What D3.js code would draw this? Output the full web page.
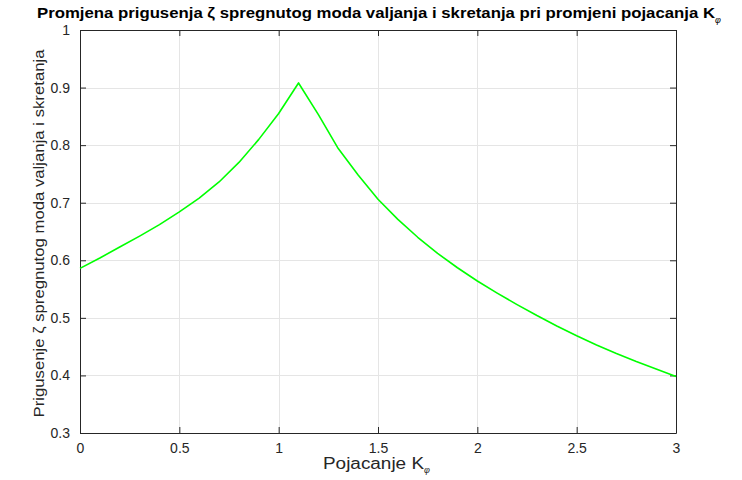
<!DOCTYPE html>
<html>
<head>
<meta charset="utf-8">
<script src="https://cdn.jsdelivr.net/npm/d3@7"></script>
<style>
  body { margin: 0; background: #fff; }
  text { font-family: "Liberation Sans", Arial, Helvetica, sans-serif; }
</style>
</head>
<body>
<svg id="chart" width="742" height="480"></svg>
<script>
// Gain K_phi (sampled in steps of 0.1)
const gainK = [0.0, 0.1, 0.2, 0.3, 0.4, 0.5, 0.6, 0.7, 0.8, 0.9, 1.0,
               1.1, 1.2, 1.3, 1.4, 1.5, 1.6, 1.7, 1.8, 1.9, 2.0,
               2.1, 2.2, 2.3, 2.4, 2.5, 2.6, 2.7, 2.8, 2.9, 3.0];
// Damping ratio zeta of the coupled roll-yaw mode
const zeta = [0.586, 0.604, 0.623, 0.642, 0.662, 0.684, 0.708, 0.736, 0.770, 0.810, 0.855,
              0.908, 0.853, 0.794, 0.748, 0.706, 0.671, 0.640, 0.612, 0.587, 0.564,
              0.543, 0.523, 0.504, 0.486, 0.469, 0.453, 0.438, 0.424, 0.411, 0.398];
const xTicks = [0, 0.5, 1, 1.5, 2, 2.5, 3];
const yTicks = [0.3, 0.4, 0.5, 0.6, 0.7, 0.8, 0.9, 1];

const titleText = "Promjena prigusenja \u03B6 spregnutog moda valjanja i skretanja pri promjeni pojacanja K";
const xLabelText = "Pojacanje K";
const yLabelText = "Prigusenje \u03B6 spregnutog moda valjanja i skretanja";

const svg = d3.select("#chart");
const L = 80, R = 676, T = 30, B = 433;

const x = d3.scaleLinear().domain([0, 3]).range([L, R]);
const y = d3.scaleLinear().domain([0.3, 1]).range([B, T]);

// grid
const grid = svg.append("g").attr("stroke", "#e5e5e5").attr("stroke-width", 1);
grid.selectAll("line.vx").data(xTicks).join("line")
  .attr("x1", d => Math.round(x(d)) + 0.5).attr("x2", d => Math.round(x(d)) + 0.5)
  .attr("y1", T).attr("y2", B);
grid.selectAll("line.hy").data(yTicks).join("line")
  .attr("x1", L).attr("x2", R)
  .attr("y1", d => Math.round(y(d)) + 0.5).attr("y2", d => Math.round(y(d)) + 0.5);

// axes with inward ticks (box on all four sides)
const axisColor = "#262626";
const fmt = d => d3.format("")(d);
const xAxis = svg.append("g").attr("transform", `translate(0,${B})`)
  .call(d3.axisBottom(x).tickValues(xTicks).tickSizeInner(-6).tickSizeOuter(0).tickPadding(10).tickFormat(fmt));
const xAxisTop = svg.append("g").attr("transform", `translate(0,${T})`)
  .call(d3.axisTop(x).tickValues(xTicks).tickSizeInner(-6).tickSizeOuter(0).tickFormat(""));
const yAxis = svg.append("g").attr("transform", `translate(${L},0)`)
  .call(d3.axisLeft(y).tickValues(yTicks).tickSizeInner(-6).tickSizeOuter(0).tickPadding(10).tickFormat(fmt));
const yAxisRight = svg.append("g").attr("transform", `translate(${R},0)`)
  .call(d3.axisRight(y).tickValues(yTicks).tickSizeInner(-6).tickSizeOuter(0).tickFormat(""));

[xAxis, xAxisTop, yAxis, yAxisRight].forEach(g => {
  g.select(".domain").attr("stroke", axisColor).attr("stroke-width", 1);
  g.selectAll(".tick line").attr("stroke", axisColor);
  g.selectAll(".tick text").attr("fill", axisColor).attr("font-size", 14)
    .attr("font-family", "'Liberation Sans', Arial, sans-serif");
});

// data line
svg.append("path")
  .datum(gainK.map((k, i) => [k, zeta[i]]))
  .attr("fill", "none")
  .attr("stroke", "#00ff00")
  .attr("stroke-width", 1.6)
  .attr("stroke-linejoin", "round")
  .attr("d", d3.line().x(d => x(d[0])).y(d => y(d[1])));

// title
const title = svg.append("text")
  .attr("x", 37).attr("y", 18)
  .attr("font-size", 15).attr("font-weight", "bold").attr("fill", "#000");
title.append("tspan").attr("textLength", 678).attr("lengthAdjust", "spacingAndGlyphs").text(titleText);
title.append("tspan").attr("dy", 5).attr("font-size", 9).attr("font-weight", "normal")
  .attr("font-style", "italic").text("\u03C6");

// x label
const xl = svg.append("text")
  .attr("x", 323).attr("y", 469)
  .attr("font-size", 16).attr("fill", axisColor);
xl.append("tspan").attr("textLength", 101).attr("lengthAdjust", "spacingAndGlyphs").text(xLabelText);
xl.append("tspan").attr("dy", 4).attr("font-size", 9).attr("font-style", "italic").text("\u03C6");

// y label
svg.append("text")
  .attr("transform", `translate(44,${(T + B) / 2 + 2}) rotate(-90)`)
  .attr("text-anchor", "middle")
  .attr("font-size", 15).attr("fill", axisColor)
  .attr("textLength", 368).attr("lengthAdjust", "spacingAndGlyphs")
  .text(yLabelText);
</script>
</body>
</html>
